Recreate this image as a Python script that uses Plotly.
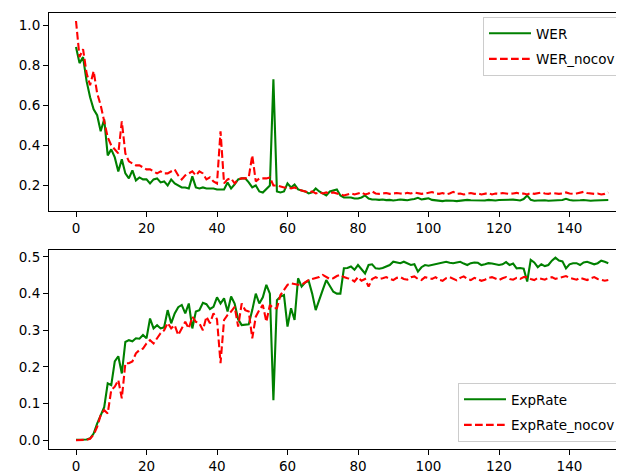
import plotly.graph_objects as go

epochs = list(range(152))

wer = [
    0.89, 0.81, 0.84, 0.72, 0.64, 0.58, 0.55, 0.47, 0.53, 0.35,
    0.38, 0.34, 0.27, 0.33, 0.26, 0.235, 0.275, 0.225, 0.24, 0.23,
    0.23, 0.21, 0.23, 0.235, 0.215, 0.22, 0.20, 0.23, 0.21, 0.20,
    0.19, 0.19, 0.185, 0.245, 0.19, 0.185, 0.19, 0.185, 0.185, 0.185,
    0.18, 0.18, 0.18, 0.215, 0.185, 0.205, 0.23, 0.235, 0.235, 0.215,
    0.19, 0.20, 0.17, 0.165, 0.185, 0.20, 0.73, 0.17, 0.165, 0.17,
    0.21, 0.19, 0.205, 0.18, 0.175, 0.17, 0.16, 0.165, 0.185, 0.17,
    0.16, 0.15, 0.17, 0.175, 0.18, 0.15, 0.14, 0.14, 0.14, 0.135,
    0.135, 0.14, 0.15, 0.135, 0.13, 0.13, 0.128, 0.13, 0.127, 0.128,
    0.125, 0.127, 0.13, 0.128, 0.126, 0.13, 0.132, 0.138, 0.13, 0.133,
    0.136, 0.128, 0.125, 0.123, 0.122, 0.125, 0.126, 0.124, 0.122, 0.125,
    0.127, 0.128, 0.126, 0.125, 0.127, 0.124, 0.125, 0.128, 0.126, 0.125,
    0.127, 0.128, 0.126, 0.127, 0.129, 0.127, 0.125, 0.132, 0.15, 0.128,
    0.124, 0.125, 0.127, 0.126, 0.124, 0.125, 0.126, 0.124, 0.127, 0.133,
    0.127, 0.125, 0.124, 0.126, 0.127, 0.125, 0.124, 0.125, 0.126, 0.127,
    0.126, 0.127,
]

wer_nocov = [
    1.02, 0.84, 0.88, 0.76, 0.70, 0.77, 0.66, 0.60, 0.52, 0.44,
    0.40, 0.38, 0.36, 0.52, 0.36, 0.32, 0.31, 0.30, 0.30, 0.29,
    0.28, 0.28, 0.27, 0.26, 0.27, 0.26, 0.26, 0.27, 0.28, 0.25,
    0.23, 0.25, 0.26, 0.27, 0.25, 0.27, 0.26, 0.23, 0.24, 0.22,
    0.21, 0.47, 0.21, 0.23, 0.235, 0.21, 0.23, 0.235, 0.235, 0.24,
    0.35, 0.22, 0.235, 0.235, 0.235, 0.24, 0.20, 0.20, 0.195, 0.19,
    0.19, 0.185, 0.19, 0.18, 0.175, 0.17, 0.165, 0.17, 0.16, 0.165,
    0.16, 0.165, 0.16, 0.165, 0.16, 0.155, 0.15, 0.155, 0.16, 0.155,
    0.16, 0.165, 0.155, 0.16, 0.17, 0.16, 0.158, 0.16, 0.162, 0.158,
    0.16, 0.162, 0.16, 0.158, 0.163, 0.16, 0.165, 0.16, 0.158, 0.16,
    0.163, 0.167, 0.16, 0.158, 0.162, 0.155, 0.16, 0.168, 0.158, 0.16,
    0.155, 0.16, 0.162, 0.158, 0.16, 0.155, 0.16, 0.162, 0.155, 0.16,
    0.158, 0.162, 0.16, 0.158, 0.16, 0.163, 0.158, 0.16, 0.155, 0.162,
    0.158, 0.16, 0.165, 0.16, 0.158, 0.162, 0.16, 0.158, 0.16, 0.165,
    0.16, 0.158, 0.16, 0.165, 0.168, 0.162, 0.16, 0.158, 0.16, 0.155,
    0.158, 0.165,
]

exprate = [
    0.001, 0.001, 0.001, 0.002, 0.005, 0.018, 0.045, 0.07, 0.09, 0.155,
    0.15, 0.215, 0.229, 0.182, 0.268, 0.273, 0.27, 0.278, 0.277, 0.287,
    0.278, 0.332, 0.305, 0.314, 0.305, 0.308, 0.355, 0.319, 0.346, 0.363,
    0.369, 0.346, 0.373, 0.305, 0.351, 0.355, 0.375, 0.371, 0.358, 0.364,
    0.39, 0.373, 0.387, 0.351, 0.392, 0.373, 0.33, 0.314, 0.314, 0.316,
    0.355, 0.40, 0.373, 0.39, 0.424, 0.40, 0.109, 0.382, 0.392, 0.396,
    0.31, 0.36, 0.328, 0.442, 0.419, 0.43, 0.435, 0.40, 0.355, 0.38,
    0.41, 0.437, 0.42, 0.405, 0.40, 0.40, 0.469, 0.47, 0.474, 0.465,
    0.478, 0.465, 0.455, 0.478, 0.48, 0.469, 0.468, 0.47, 0.475, 0.478,
    0.487, 0.485, 0.483, 0.487, 0.483, 0.478, 0.48, 0.46, 0.472, 0.478,
    0.476, 0.478, 0.48, 0.483, 0.485, 0.487, 0.484, 0.483, 0.485, 0.487,
    0.482, 0.478, 0.483, 0.485, 0.484, 0.478, 0.48, 0.483, 0.482, 0.48,
    0.478, 0.48, 0.486, 0.478, 0.482, 0.469, 0.47, 0.468, 0.433, 0.492,
    0.485, 0.472, 0.48, 0.475, 0.478, 0.49, 0.498, 0.49, 0.488, 0.469,
    0.48, 0.483, 0.483, 0.478, 0.485, 0.487, 0.484, 0.48, 0.483, 0.49,
    0.487, 0.483,
]

exprate_nocov = [
    0.0, 0.0, 0.0, 0.001, 0.004, 0.015, 0.036, 0.068, 0.082, 0.073,
    0.137, 0.146, 0.164, 0.114, 0.21, 0.21, 0.215, 0.237, 0.246, 0.25,
    0.264, 0.273, 0.264, 0.278, 0.292, 0.30, 0.32, 0.305, 0.314, 0.287,
    0.305, 0.323, 0.305, 0.337, 0.323, 0.319, 0.30, 0.337, 0.319, 0.346,
    0.33, 0.21, 0.328, 0.342, 0.351, 0.364, 0.31, 0.373, 0.355, 0.351,
    0.278, 0.337, 0.355, 0.369, 0.323, 0.369, 0.36, 0.36, 0.396, 0.41,
    0.424, 0.428, 0.425, 0.424, 0.424, 0.43, 0.437, 0.44, 0.442, 0.445,
    0.451, 0.445, 0.44, 0.442, 0.448, 0.451, 0.445, 0.442, 0.44, 0.433,
    0.445, 0.435, 0.44, 0.419, 0.44, 0.445, 0.44, 0.442, 0.445, 0.44,
    0.437, 0.443, 0.445, 0.44, 0.438, 0.445, 0.447, 0.44, 0.437, 0.445,
    0.443, 0.44, 0.445, 0.438, 0.435, 0.442, 0.445, 0.44, 0.436, 0.443,
    0.447, 0.44, 0.437, 0.443, 0.44, 0.435, 0.438, 0.443, 0.445, 0.44,
    0.437, 0.442, 0.445, 0.44, 0.438, 0.443, 0.44, 0.445, 0.445, 0.44,
    0.437, 0.443, 0.44, 0.438, 0.443, 0.445, 0.44, 0.442, 0.445, 0.448,
    0.443, 0.44, 0.438, 0.443, 0.44, 0.437, 0.442, 0.445, 0.44, 0.438,
    0.435, 0.437,
]

x_ticks = [0, 20, 40, 60, 80, 100, 120, 140]
top_y_ticks = [0.2, 0.4, 0.6, 0.8, 1.0]
top_y_labels = ["0.2", "0.4", "0.6", "0.8", "1.0"]
bot_y_ticks = [0.0, 0.1, 0.2, 0.3, 0.4, 0.5]
bot_y_labels = ["0.0", "0.1", "0.2", "0.3", "0.4", "0.5"]

# page body adds an 8px offset; figure fills the rest of the 624x474 window
OFF = 8
W, H = 624 - OFF, 474 - OFF
GREEN = "#008000"
RED = "#ff0000"
LW = 2.1
DASH = "7.7px,3.3px"
FONT = "DejaVu Sans"


def px_x(sx):
    return (sx - OFF) / W


def px_y(sy):
    return (H - (sy - OFF)) / H


fig = go.Figure()
fig.add_trace(go.Scatter(x=epochs, y=wer, mode="lines", name="WER", legendgroup="a",
                         line=dict(color=GREEN, width=LW), xaxis="x", yaxis="y",
                         legend="legend"))
fig.add_trace(go.Scatter(x=epochs, y=wer_nocov, mode="lines", name="WER_nocov", legendgroup="b",
                         line=dict(color=RED, width=LW, dash=DASH), xaxis="x", yaxis="y",
                         legend="legend"))
fig.add_trace(go.Scatter(x=epochs, y=exprate, mode="lines", name="ExpRate", legendgroup="c",
                         line=dict(color=GREEN, width=LW), xaxis="x2", yaxis="y2",
                         legend="legend2"))
fig.add_trace(go.Scatter(x=epochs, y=exprate_nocov, mode="lines", name="ExpRate_nocov",
                         legendgroup="d",
                         line=dict(color=RED, width=LW, dash=DASH), xaxis="x2", yaxis="y2",
                         legend="legend2"))

# screen: x=0 at 76px, 3.525 px per epoch; axes left spine at 49px
x0_fig = 76 - OFF
x_left_fig = 49 - OFF
x_range = [(x_left_fig - x0_fig) / 3.525, (W - x0_fig) / 3.525]

axis_common = dict(showgrid=False, zeroline=False, showline=True, linecolor="black",
                   linewidth=1.1, ticks="outside", ticklen=5, tickwidth=1.1,
                   tickcolor="black", tickfont=dict(family=FONT, size=13.5, color="black"),
                   automargin=False)

legend_common = dict(xanchor="right", yanchor="top", bgcolor="white",
                     bordercolor="#cccccc", borderwidth=1, itemwidth=42,
                     tracegroupgap=5, traceorder="grouped",
                     font=dict(family=FONT, size=13.5, color="black"))

fig.update_layout(
    width=W, height=H,
    margin=dict(l=0, r=0, t=0, b=0),
    paper_bgcolor="white", plot_bgcolor="white",
    font=dict(family=FONT, size=13.5, color="black"),
    xaxis=dict(domain=[px_x(49), 1.0], range=x_range, anchor="y",
               tickvals=x_ticks, mirror=True, **axis_common),
    yaxis=dict(domain=[px_y(210.5), px_y(12.5)], range=[0.075, 1.0625],
               anchor="x", tickvals=top_y_ticks, ticktext=top_y_labels, **axis_common),
    xaxis2=dict(domain=[px_x(49), 1.0], range=x_range, anchor="y2",
                tickvals=x_ticks, mirror=True, **axis_common),
    yaxis2=dict(domain=[px_y(448.5), px_y(250)], range=[-0.0227, 0.519],
                anchor="x2", tickvals=bot_y_ticks, ticktext=bot_y_labels, **axis_common),
    legend=dict(x=px_x(621), y=px_y(17), **legend_common),
    legend2=dict(x=px_x(621), y=px_y(383), **legend_common),
    showlegend=True,
)

fig.write_html("out.html")
